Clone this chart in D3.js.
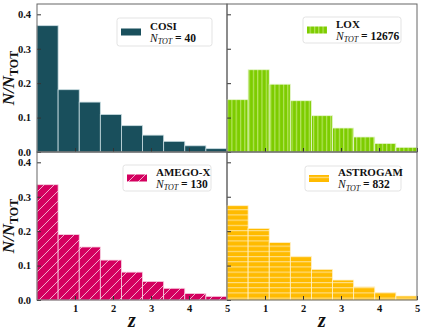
<!DOCTYPE html>
<html>
<head>
<meta charset="utf-8">
<script src="https://cdn.jsdelivr.net/npm/d3@7"></script>
<style>
  body { margin: 0; background: #fff; }
  #chart text { font-family: 'Liberation Serif', 'Times New Roman', serif !important; }
</style>
</head>
<body>
<svg id="chart" width="424" height="333"></svg>
<script>
// redshift bins: 9 equal bins between 0 and 5
var binEdges = [0, 5/9, 10/9, 15/9, 20/9, 25/9, 30/9, 35/9, 40/9, 5];
var xTicks = [1, 2, 3, 4, 5];
var yTicks = [0.0, 0.1, 0.2, 0.3, 0.4];

var names = ["COSI", "LOX", "AMEGO-X", "ASTROGAM"];
var nTot = [40, 12676, 130, 832];

var cosiVals = [0.367, 0.181, 0.145, 0.109, 0.0765, 0.049, 0.031, 0.018, 0.0097];
var loxVals = [0.152, 0.239, 0.197, 0.149, 0.1055, 0.0697, 0.0436, 0.025, 0.0136];
var amegoVals = [0.335, 0.190, 0.154, 0.116, 0.081, 0.054, 0.034, 0.019, 0.0106];
var astroVals = [0.274, 0.208, 0.167, 0.127, 0.089, 0.058, 0.038, 0.022, 0.0116];

var svg = d3.select("#chart");
var defs = svg.append("defs");

// hatch patterns
function _pattern(id, base, line, w, h, draw) {
    var p = defs.append("pattern")
        .attr("id", id)
        .attr("patternUnits", "userSpaceOnUse")
        .attr("width", w)
        .attr("height", h);
    p.append("rect").attr("width", w).attr("height", h).attr("fill", base);
    draw(p, line);
}
_pattern("hatchLox", "#7dcc00", "#b4e45c", 4.3, 10, function(p, c){
    p.append("rect").attr("x", 0).attr("y", 0).attr("width", 1.2).attr("height", 10).attr("fill", c);
});
_pattern("hatchAmego", "#d4005f", "#f4c0d6", 10, 10, function(p, c){
    p.append("path").attr("d", "M-1,11 L11,-1 M-3,3 L3,-3 M7,13 L13,7")
        .attr("stroke", c).attr("stroke-width", 0.9);
});
_pattern("hatchAstro", "#ffbb00", "#ffe08a", 10, 5.2, function(p, c){
    p.append("rect").attr("x", 0).attr("y", 0).attr("width", 10).attr("height", 1.1).attr("fill", c);
});

var panels = [
    {vals: cosiVals, fill: "#194f5c", edge: "#c9dde2", patch: "#194f5c", x0: 37, y0: 4, left: true, bottom: false, leg: [117, 18, 212, 46]},
    {vals: loxVals, fill: "url(#hatchLox)", edge: "#e8f6d0", patch: "url(#hatchLox)", x0: 227, y0: 4, left: false, bottom: false, leg: [303, 17, 401, 43]},
    {vals: amegoVals, fill: "url(#hatchAmego)", edge: "#f6d0e0", patch: "url(#hatchAmego)", x0: 37, y0: 152, left: true, bottom: true, leg: [123, 165, 211, 191]},
    {vals: astroVals, fill: "url(#hatchAstro)", edge: "#fff0c8", patch: "url(#hatchAstro)", x0: 227, y0: 152, left: false, bottom: true, leg: [305, 166, 401, 191]}
];

var pw = 190, ph = 148;

panels.forEach(function(pan, k){
    var g = svg.append("g").attr("transform", "translate(" + pan.x0 + "," + pan.y0 + ")");
    var x = d3.scaleLinear().domain([0, 5]).range([0, pw]);
    var y = d3.scaleLinear().domain([0, 0.43]).range([ph, 0]);

    g.selectAll("rect.bar")
        .data(pan.vals)
        .enter()
        .append("rect")
        .attr("class", "bar")
        .attr("x", function(d, i){ return x(binEdges[i]); })
        .attr("width", function(d, i){ return x(binEdges[i + 1]) - x(binEdges[i]); })
        .attr("y", function(d){ return y(d); })
        .attr("height", function(d){ return ph - y(d); })
        .attr("fill", pan.fill)
        .attr("stroke", pan.edge)
        .attr("stroke-width", 0.8);

    // inward ticks
    var yAxis = d3.axisLeft(y).tickValues(yTicks).tickSizeInner(-4).tickSizeOuter(0).tickPadding(6)
        .tickFormat(pan.left ? d3.format(".1f") : "");
    var yg = g.append("g").call(yAxis);
    var xAxis = d3.axisBottom(x).tickValues(xTicks).tickSizeInner(-4).tickSizeOuter(0).tickPadding(5)
        .tickFormat(pan.bottom ? d3.format("d") : "");
    var xg = g.append("g").attr("transform", "translate(0," + ph + ")").call(xAxis);
    [yg, xg].forEach(function(a){
        a.attr("font-size", 10.5);
        a.select(".domain").remove();
        a.selectAll(".tick line").attr("stroke", "#333");
        a.selectAll("text").attr("font-weight", "bold").attr("fill", "#111");
    });

    // frame
    g.append("rect").attr("x", 0).attr("y", 0).attr("width", pw).attr("height", ph)
        .attr("fill", "none").attr("stroke", "#666").attr("stroke-width", 1);

    // legend
    var L = pan.leg;
    svg.append("rect").attr("x", L[0]).attr("y", L[1]).attr("width", L[2] - L[0]).attr("height", L[3] - L[1])
        .attr("rx", 2.5).attr("fill", "#fff").attr("fill-opacity", 0.8)
        .attr("stroke", "#dcdcdc").attr("stroke-width", 0.8);
    var midY = (L[1] + L[3]) / 2;
    svg.append("rect").attr("x", L[0] + 4).attr("y", midY - 3.5).attr("width", 20).attr("height", 7)
        .attr("fill", pan.patch);
    var tx = L[0] + 33;
    svg.append("text").attr("x", tx).attr("y", midY - 2.5)
        .attr("font-size", 11).attr("font-weight", "bold").attr("fill", "#111")
        .text(names[k]);
    var t2 = svg.append("text").attr("x", tx).attr("y", midY + 9.5)
        .attr("font-size", 11.5).attr("fill", "#111");
    t2.append("tspan").attr("font-style", "italic").text("N");
    t2.append("tspan").attr("font-style", "italic").attr("font-size", 8).attr("dy", 2.5).text("TOT");
    t2.append("tspan").attr("dy", -2.5).attr("font-weight", "bold").text(" = " + nTot[k]);
});

// y labels
[78, 226].forEach(function(cy){
    var t = svg.append("text")
        .attr("transform", "translate(14," + cy + ") rotate(-90)")
        .attr("text-anchor", "middle")
        .attr("font-size", 17).attr("font-weight", "bold").attr("fill", "#111");
    t.append("tspan").attr("font-style", "italic").text("N/N");
    t.append("tspan").attr("font-size", 12).attr("dy", 4).text("TOT");
});

// x labels
[132, 322].forEach(function(cx){
    svg.append("text").attr("x", cx).attr("y", 327).attr("text-anchor", "middle")
        .attr("font-size", 20).attr("font-style", "italic").attr("font-weight", "bold").attr("fill", "#111")
        .text("z");
});
</script>
</body>
</html>
